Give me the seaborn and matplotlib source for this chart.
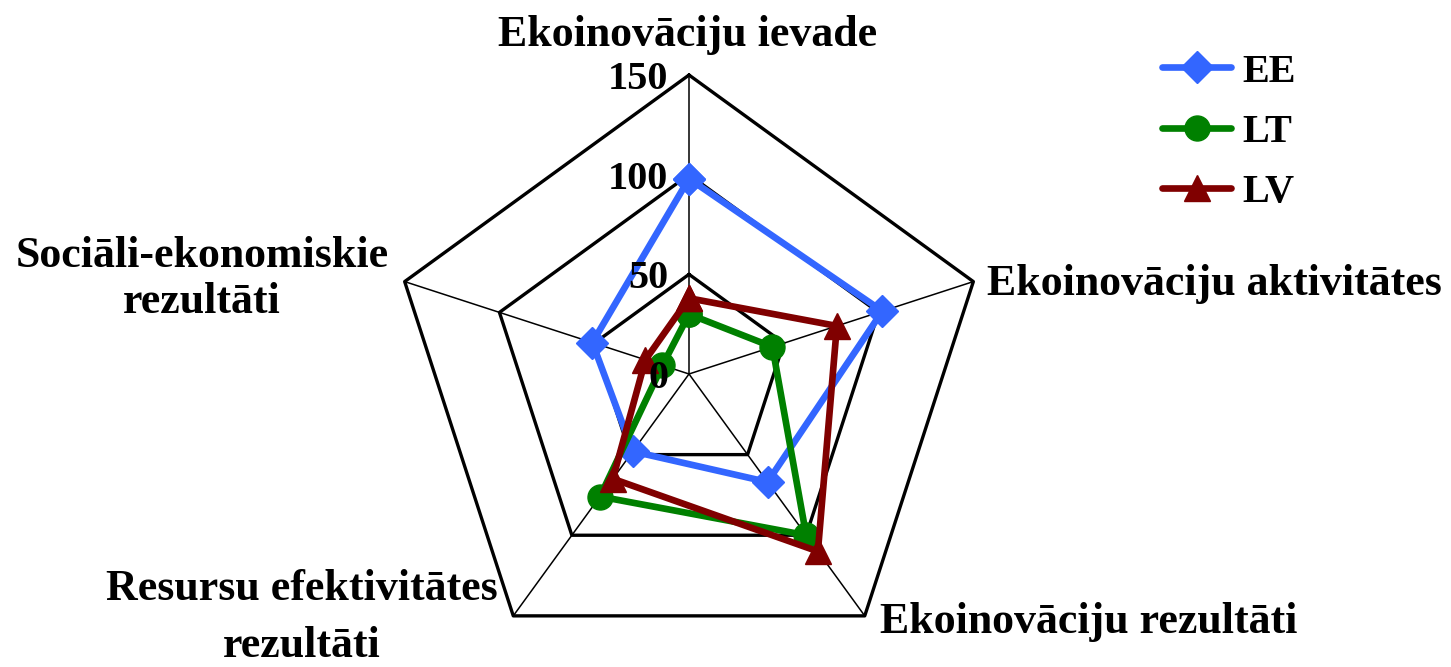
import numpy as np
import matplotlib.pyplot as plt
import seaborn as sns

# Radar chart data
categories = ['Ekoinovāciju ievade', 'Ekoinovāciju aktivitātes', 'Ekoinovāciju rezultāti',
              'Resursu efektivitātes\nrezultāti', 'Sociāli-ekonomiskie\nrezultāti']
series_names = ['EE', 'LT', 'LV']
ee_values = [98, 102, 67, 48, 51]
lt_values = [30, 44, 100, 76, 14]
lv_values = [38, 78, 110, 65, 23]
grid_levels = [50, 100, 150]
tick_values = [0, 50, 100, 150]

colors = ['#3366FF', '#008000', '#800000']
markers = ['D', 'o', '^']
marker_sizes = [16, 18, 19]

sns.set_style('white')
plt.rcParams['font.family'] = ['Liberation Serif', 'DejaVu Serif']
plt.rcParams['font.weight'] = 'bold'
plt.rcParams['text.color'] = 'black'

fig = plt.figure(figsize=(14.51, 6.67), dpi=100)
ax = fig.add_axes([0.2688, -0.009, 0.4121, 0.8966], projection='polar')
ax.set_theta_offset(np.pi / 2)
ax.set_theta_direction(-1)

n = len(categories)
theta = np.linspace(0, 2 * np.pi, n, endpoint=False)
theta_closed = np.append(theta, 2 * np.pi)

# pentagon grid and spokes
for level in grid_levels:
    ax.plot(theta_closed, [level] * (n + 1), color='black', lw=2.4, clip_on=False, zorder=1)
for t in theta:
    ax.plot([t, t], [0, grid_levels[-1]], color='black', lw=1.1, clip_on=False, zorder=1)

# series
for name, vals, c, m, ms in zip(series_names, [ee_values, lt_values, lv_values],
                                colors, markers, marker_sizes):
    sns.lineplot(x=theta_closed, y=vals + vals[:1], ax=ax, sort=False, color=c, lw=4.8,
                 marker=m, markersize=ms, markeredgecolor=c, markeredgewidth=1,
                 label=name, zorder=3, clip_on=False)

ax.set_ylim(0, 150)
ax.set_xticks([])
ax.set_yticks([])
ax.grid(False)
ax.spines['polar'].set_visible(False)
ax.set_facecolor('none')
ax.set_xlabel('')
ax.set_ylabel('')

# radial value labels along the top axis
for v in tick_values:
    ax.annotate(str(v), xy=(0, v), xytext=(-21, -14), textcoords='offset pixels',
                ha='right', va='baseline', fontsize=29, fontweight='bold',
                color='black', zorder=5)

# category labels: (dx, dy, ha, linespacing) in pixels from the outer vertex
label_pos = [(-1.5, 29.5, 'center', 1.2), (14, -13.5, 'left', 1.2), (15, -16.7, 'left', 1.2),
             (-211.5, -41, 'center', 1.55), (-202.7, -31.5, 'center', 1.2)]
for t, lab, (dx, dy, ha, ls) in zip(theta, categories, label_pos):
    ax.annotate(lab, xy=(t, grid_levels[-1]), xytext=(dx, dy), textcoords='offset pixels',
                ha=ha, va='baseline', fontsize=31.6, fontweight='bold', color='black',
                linespacing=ls, annotation_clip=False)

leg = ax.legend(loc='upper left', bbox_to_anchor=(0.8008, 0.92), bbox_transform=fig.transFigure,
                frameon=False, prop={'weight': 'bold', 'size': 29},
                handlelength=1.72, handletextpad=0.28, labelspacing=0.57,
                borderpad=0, borderaxespad=0)
for txt in leg.get_texts():
    txt.set_color('black')

plt.savefig('out.png', dpi=100)
